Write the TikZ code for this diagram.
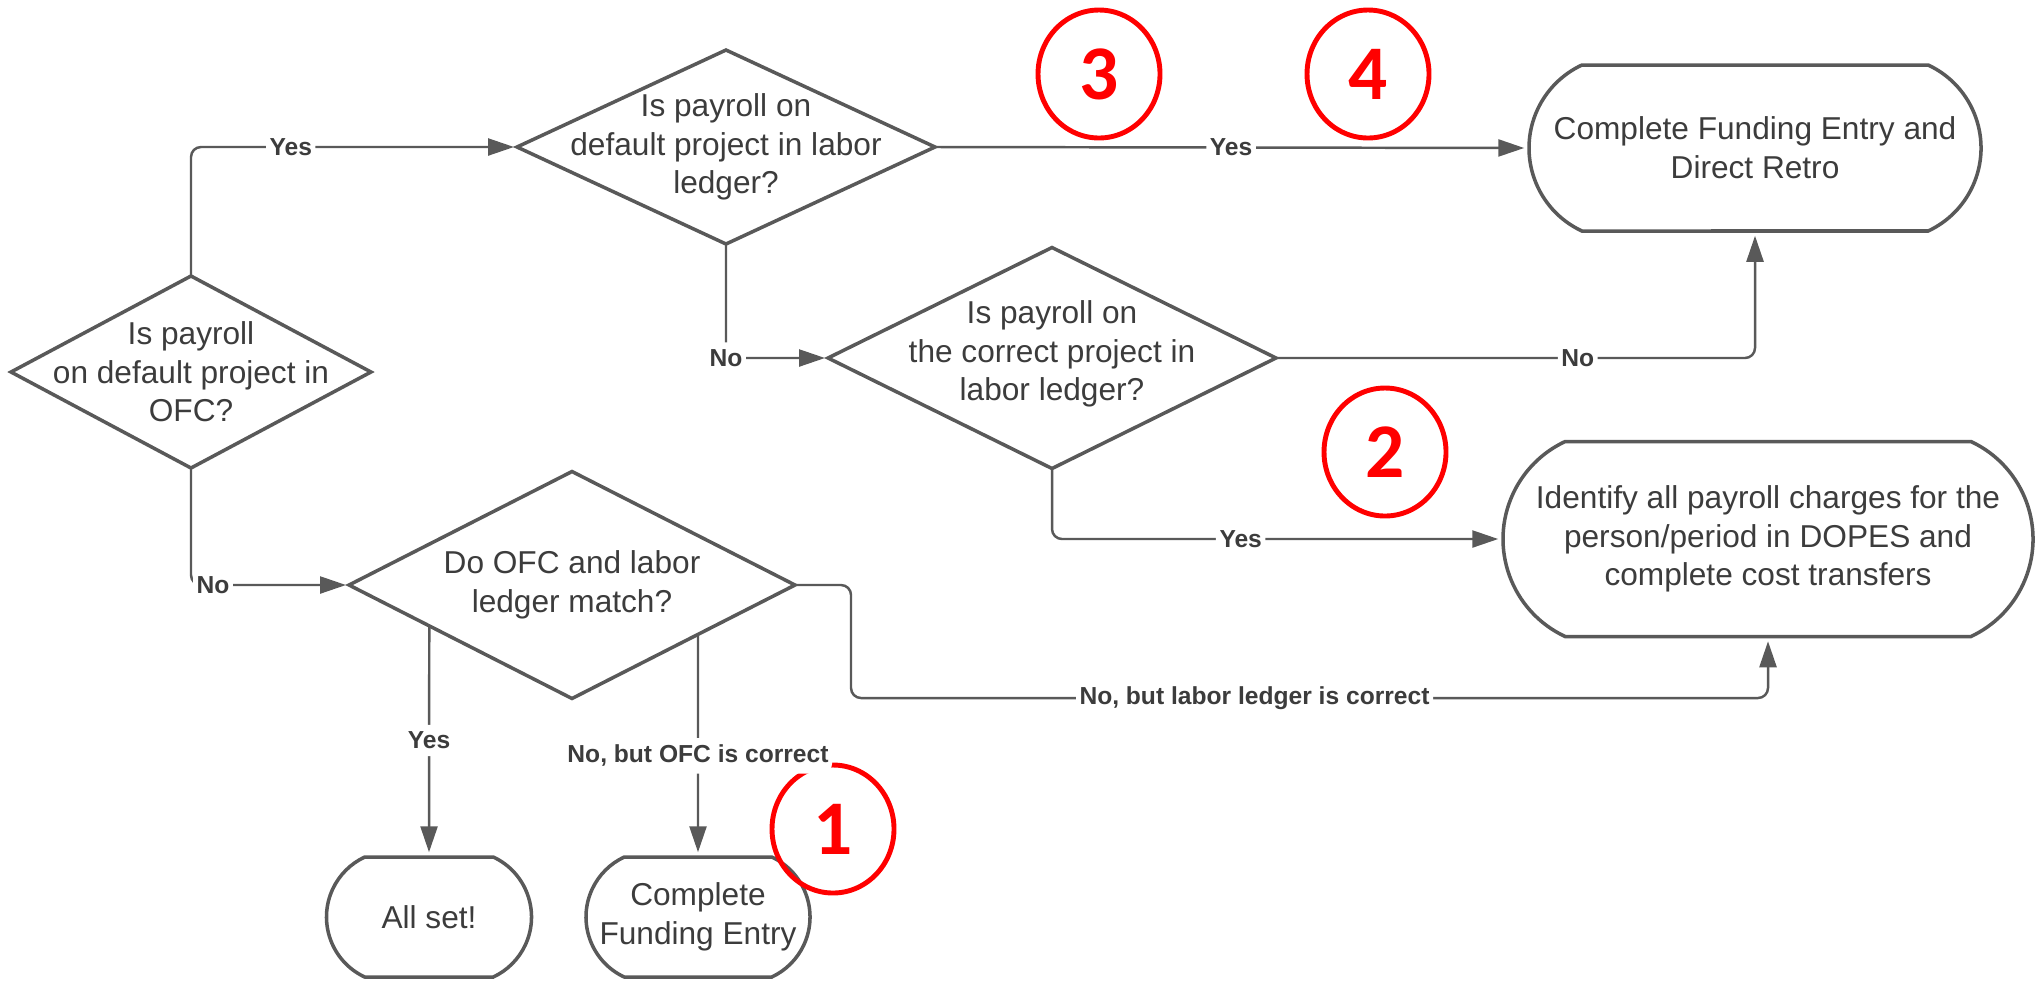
\documentclass[tikz,border=0pt]{standalone}
\usepackage{fontspec}
\setmainfont{Liberation Sans}
\newfontfamily\numfont{Carlito}
\usetikzlibrary{shapes.geometric,shapes.misc,arrows.meta,calc}
\definecolor{lineg}{HTML}{595959}
\definecolor{textg}{HTML}{3C3C3C}
\definecolor{markred}{HTML}{FF0000}

\begin{document}
\begin{tikzpicture}[x=0.1mm,y=-0.1mm,
		dia/.style={diamond,draw=lineg,line width=1pt,inner sep=0pt,outer sep=0pt},
		term/.style={rounded rectangle,rounded rectangle arc length=130,draw=lineg,line width=1pt,
			inner sep=0pt,align=center,text=textg,font=\fontsize{9}{11}\selectfont},
		qtext/.style={align=center,text=textg,font=\fontsize{9}{11}\selectfont},
		lbl/.style={fill=white,inner xsep=1pt,inner ysep=2pt,text=textg,font=\fontsize{7}{8}\selectfont\bfseries},
		arr/.style={draw=lineg,line width=0.7pt,rounded corners=1mm,shorten >=0.3mm,
			-{Triangle[length=2.6mm,width=1.7mm]}},
		num/.style={ellipse,draw=markred,line width=1.4pt,text=markred,inner sep=0pt,
			minimum width=12.2mm,minimum height=12.8mm,font=\numfont\fontsize{22}{22}\selectfont\bfseries}]
		\useasboundingbox (0,0) rectangle (2037,980);
		% decisions
		\node[dia,minimum width=36mm,minimum height=19.2mm] (ofc) at (191,372) {};
		\node[qtext] (ofct) at (ofc) {Is payroll\\on default project in\\OFC?};
		\node[dia,minimum width=41.8mm,minimum height=19.4mm] (dflt) at (726,147) {};
		\node[qtext] (dfltt) at (dflt) {Is payroll on\\default project in labor\\ledger?};
		\node[dia,minimum width=44.8mm,minimum height=22.1mm] (corr) at (1052,358) {};
		\node[qtext] (corrt) at (1052,354) {Is payroll on\\the correct project in\\labor ledger?};
		\node[dia,minimum width=44.6mm,minimum height=22.7mm] (match) at (572,585) {};
		\node[qtext] (matcht) at (match) {Do OFC and labor\\ledger match?};
		% end points
		\node[term,minimum width=45.2mm,minimum height=16.6mm] (retro) at (1755,148) {Complete Funding Entry and\\Direct Retro};
		\node[term,minimum width=53mm,minimum height=19.5mm] (ident) at (1768,539) {Identify all payroll charges for the\\person/period in DOPES and\\complete cost transfers};
		\node[term,minimum width=20.5mm,minimum height=12mm] (allset) at (429,917) {All set!};
		\node[term,minimum width=22.4mm,minimum height=12mm] (fund) at (698,917) {Complete\\Funding Entry};
		% markers
		\node[num] (m3) at (1099,74) {3};
		\node[num] (m4) at (1368,74) {4};
		\node[num] (m2) at (1385,452) {2};
		\node[num] (m1) at (833,829) {1};
		% connectors
		\coordinate (mbend) at (851,698);
		\draw[arr] (ofc.north) |- node[lbl,pos=0.653] {Yes} (dflt.west);
		\draw[arr] (ofc.south) |- node[lbl,pos=0.5,xshift=2.2mm] {No} (match.west);
		\draw[arr] (dflt.east) -- node[lbl,pos=0.5] {Yes} (retro.west);
		\draw[arr] (dflt.south) |- node[lbl,pos=0.5] {No} (corr.west);
		\draw[arr] (corr.east) -| node[lbl,pos=0.315] {No} (retro.south);
		\draw[arr] (corr.south) |- node[lbl,pos=0.71] {Yes} (ident.west);
		\draw[arr] (match.east) -| (mbend) -| node[lbl,pos=0.22] {No, but labor ledger is correct} (ident.south);
		\draw[arr] ($(match.west)!0.36!(match.south)$) -- node[lbl,pos=0.5] {Yes} (allset.north);
		\draw[arr] ($(match.south)!0.565!(match.east)$) -- node[lbl,pos=0.55] {No, but OFC is correct} (fund.north);
\end{tikzpicture}
\end{document}
